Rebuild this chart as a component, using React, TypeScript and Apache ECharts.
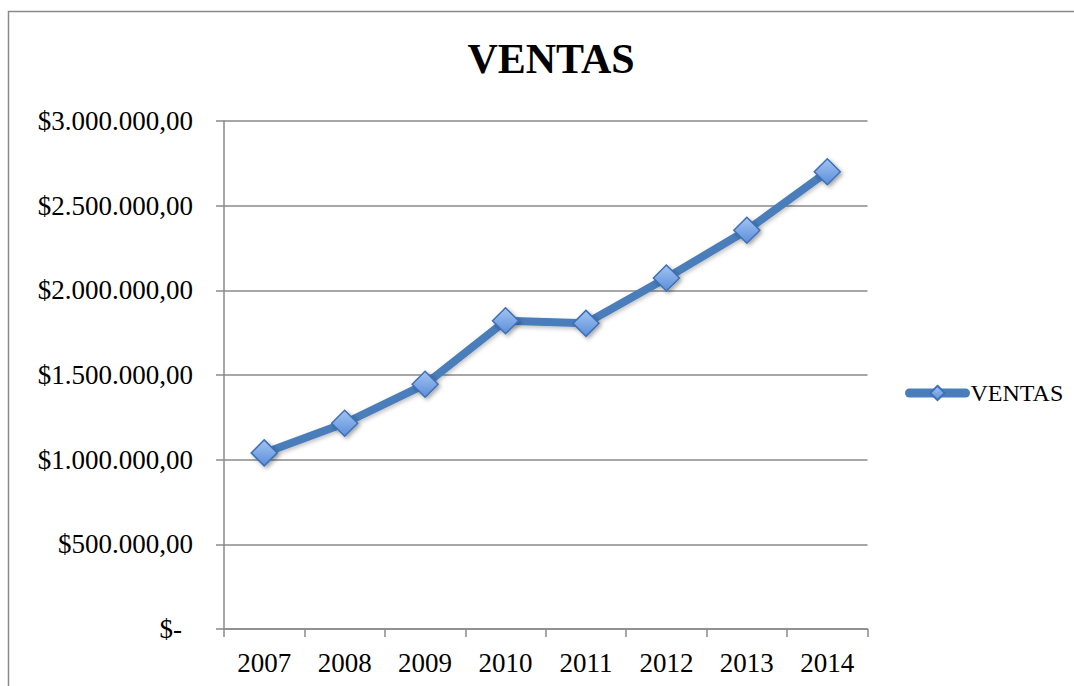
import React, { useEffect, useRef } from "react";
import * as echarts from "echarts";

const years = ["2007", "2008", "2009", "2010", "2011", "2012", "2013", "2014"];
const ventas = [1040000, 1215000, 1445000, 1820000, 1805000, 2073000, 2355000, 2700000];
const yMin = 0;
const yMax = 3000000;
const yStep = 500000;

function formatMoney(v: number): string {
  if (v === 0) return "{z|$-}";
  const s = Math.round(v).toString();
  const parts: string[] = [];
  for (let i = s.length; i > 0; i -= 3) {
    parts.unshift(s.substring(Math.max(0, i - 3), i));
  }
  return "$" + parts.join(".") + ",00";
}

export default function App() {
  const ref = useRef<HTMLDivElement>(null);
  useEffect(() => {
    if (!ref.current) return;
    const chart = echarts.init(ref.current, undefined, { renderer: "svg" });
    const font = "'Liberation Serif', 'Times New Roman', serif";
    const gray = "#8a8a8a";
    chart.setOption({
      animation: false,
      backgroundColor: "#ffffff",
      graphic: [
        {
          type: "rect",
          shape: { x: 8.5, y: 11.5, width: 1200, height: 800 },
          style: { fill: "none", stroke: gray, lineWidth: 1.5 },
          silent: true,
        },
      ],
      title: {
        text: "VENTAS",
        left: 546,
        top: 33,
        textAlign: "center",
        textStyle: { fontFamily: font, fontSize: 42, fontWeight: "bold", color: "#000" },
      },
      legend: {
        left: 900,
        top: 376,
        itemWidth: 56,
        itemHeight: 18,
        lineStyle: { width: 9, cap: "round", color: "#4a7ebb" },
        textStyle: { fontFamily: font, fontSize: 24, color: "#000" },
        data: ["VENTAS"],
      },
      grid: { left: 224, right: 206.5, top: 121, bottom: 57, containLabel: false },
      xAxis: {
        type: "category",
        data: years,
        boundaryGap: true,
        axisLine: { show: true, lineStyle: { color: gray, width: 1.5 } },
        axisTick: { show: true, length: 8, alignWithLabel: false, lineStyle: { color: gray, width: 1.5 } },
        axisLabel: { margin: 20, fontFamily: font, fontSize: 27, color: "#000" },
        splitLine: { show: false },
      },
      yAxis: {
        type: "value",
        min: yMin,
        max: yMax,
        interval: yStep,
        axisLine: { show: true, lineStyle: { color: gray, width: 1.5 } },
        axisTick: { show: true, length: 8, lineStyle: { color: gray, width: 1.5 } },
        axisLabel: {
          margin: 31,
          fontFamily: font,
          fontSize: 27,
          color: "#000",
          formatter: (v: number) => formatMoney(v),
          rich: {
            z: { fontFamily: font, fontSize: 27, color: "#000", padding: [0, 11, 0, 0] },
          },
        },
        splitLine: { show: true, lineStyle: { color: gray, width: 1.5 } },
      },
      series: [
        {
          name: "VENTAS",
          type: "line",
          data: ventas,
          symbol: "diamond",
          symbolSize: 26,
          lineStyle: {
            color: "#4a7ebb",
            width: 8,
            cap: "round",
            join: "round",
            shadowColor: "rgba(0,0,0,0.25)",
            shadowBlur: 4,
            shadowOffsetX: 1,
            shadowOffsetY: 2,
          },
          itemStyle: {
            color: new echarts.graphic.LinearGradient(0, 0, 0, 1, [
              { offset: 0, color: "#a3c4f3" },
              { offset: 1, color: "#5a8ed8" },
            ]),
            borderColor: "#3f6fb6",
            borderWidth: 1.5,
            shadowColor: "rgba(0,0,0,0.35)",
            shadowBlur: 4,
            shadowOffsetX: 2,
            shadowOffsetY: 2,
          },
          emphasis: { disabled: true },
        },
      ],
    });
    return () => chart.dispose();
  }, []);
  return (
    <div
      ref={ref}
      style={{ position: "fixed", left: 0, top: 0, width: 1074, height: 686 }}
    />
  );
}
